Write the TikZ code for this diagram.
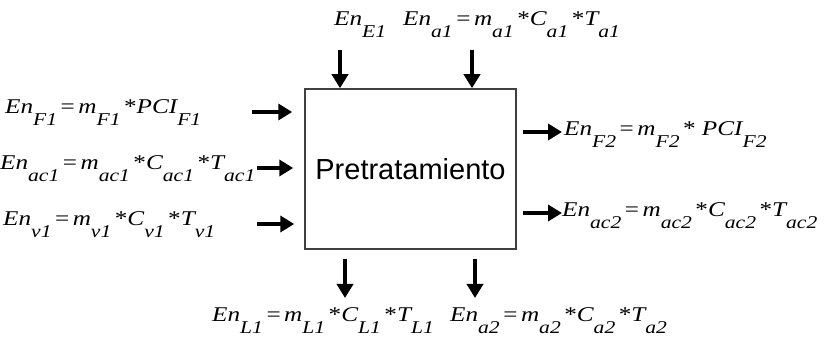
\documentclass[tikz,border=0pt]{standalone}
\usepackage{fontspec}
\setmainfont{Liberation Serif}
\setsansfont{Liberation Sans}
\newfontfamily\eqfont[FakeStretch=1.2]{Liberation Serif}
\usetikzlibrary{positioning,arrows.meta}

\newcommand{\sbs}[1]{\raisebox{-12pt}{\fontsize{18}{20}\selectfont #1}}
\newcommand{\eqs}{\,\textup{=}\,}
\newcommand{\mul}{\,\textup{*}}

\begin{document}
\begin{tikzpicture}[x=1pt, y=1pt,
  formula/.style={anchor=base west, inner sep=0pt, font=\eqfont\itshape\fontsize{21}{24}\selectfont},
  procbox/.style={draw=black!75, line width=1.5pt, minimum width=211pt, minimum height=160pt, inner sep=0pt, font=\sffamily\fontsize{29}{32}\selectfont},
  flow/.style={-{Triangle[length=14pt,width=16pt]}, line width=3.5pt}]

\useasboundingbox (0,0) rectangle (831,-339);

% Nodes
\node[procbox] (box) at (410.5,-169) {Pretratamiento};

% Labels
\node[formula] (F1) at (5,-114) {En\sbs{F1}\eqs m\sbs{F1}\mul PCI\sbs{F1}};
\node[formula] (ac1) at (0,-170) {En\sbs{ac1}\eqs m\sbs{ac1}\mul C\sbs{ac1}\mul T\sbs{ac1}};
\node[formula] (v1) at (3,-226) {En\sbs{v1}\eqs m\sbs{v1}\mul C\sbs{v1}\mul T\sbs{v1}};
\node[formula] (E1) at (334,-26) {En\sbs{E1}};
\node[formula] (a1) at (403,-26) {En\sbs{a1}\eqs m\sbs{a1}\mul C\sbs{a1}\mul T\sbs{a1}};
\node[formula] (F2) at (564,-136) {En\sbs{F2}\eqs m\sbs{F2}\mul\ PCI\sbs{F2}};
\node[formula] (ac2) at (562,-217) {En\sbs{ac2}\eqs m\sbs{ac2}\mul C\sbs{ac2}\mul T\sbs{ac2}};
\node[formula] (L1) at (212,-322) {En\sbs{L1}\eqs m\sbs{L1}\mul C\sbs{L1}\mul T\sbs{L1}};
\node[formula] (a2) at (450,-322) {En\sbs{a2}\eqs m\sbs{a2}\mul C\sbs{a2}\mul T\sbs{a2}};

% Arrow ends
\coordinate (tF1) at (252,-112);
\coordinate (tac1) at (257,-168);
\coordinate (tv1) at (257,-224);
\coordinate (tE1) at (340,-50);
\coordinate (ta1) at (472,-50);
\coordinate (hF2) at (562,-132);
\coordinate (hac2) at (562,-213);
\coordinate (hL1) at (345,-298);
\coordinate (ha2) at (475,-298);

% Arrows
\draw[flow, shorten >=12pt] (tF1) -- (tF1 -| box.west);
\draw[flow, shorten >=11pt] (tac1) -- (tac1 -| box.west);
\draw[flow, shorten >=10pt] (tv1) -- (tv1 -| box.west);
\draw[flow] (tE1) -- (tE1 |- box.north);
\draw[flow] (ta1) -- (ta1 |- box.north);
\draw[flow, shorten <=6pt] (hF2 -| box.east) -- (hF2);
\draw[flow, shorten <=6pt] (hac2 -| box.east) -- (hac2);
\draw[flow, shorten <=9pt] (hL1 |- box.south) -- (hL1);
\draw[flow, shorten <=9pt] (ha2 |- box.south) -- (ha2);

\end{tikzpicture}
\end{document}
